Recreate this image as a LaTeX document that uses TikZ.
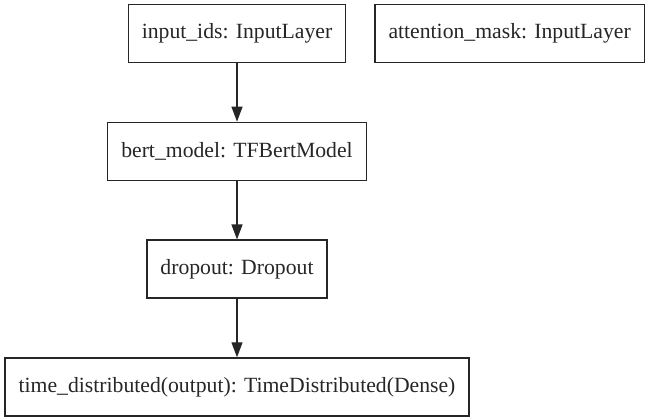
\documentclass[tikz,border=0pt]{standalone}
\usepackage{fontspec}
\setmainfont{Liberation Serif}
\usetikzlibrary{arrows.meta,positioning}
\tikzstyle{layer} = [rectangle, draw, black!85, line width=1.3pt,
minimum height=58pt, inner xsep=13.5pt,
font=\fontsize{21.7}{26}\selectfont]
\tikzstyle{flow} = [->, >={Triangle[width=11pt,length=15pt]}, draw, black!85, line width=1.3pt]

\begin{document}
\begin{tikzpicture}[node distance=58.5pt]
	\useasboundingbox (0,0) rectangle (647pt,-416pt);
	\node[layer] (inputids) at (237pt,-33.5pt) {input\_ids: InputLayer};
	\node[layer] (attmask) [right=28pt of inputids] {attention\_mask: InputLayer};
	\node[layer] (bert) [below=of inputids] {bert\_model: TFBertModel};
	\node[layer] (dropout) [below=of bert] {dropout: Dropout};
	\node[layer] (timedist) [below=of dropout] {time\_distributed(output): TimeDistributed(Dense)};

	\draw[flow] (inputids) -- (bert);
	\draw[flow] (bert) -- (dropout);
	\draw[flow] (dropout) -- (timedist);
\end{tikzpicture}
\end{document}
